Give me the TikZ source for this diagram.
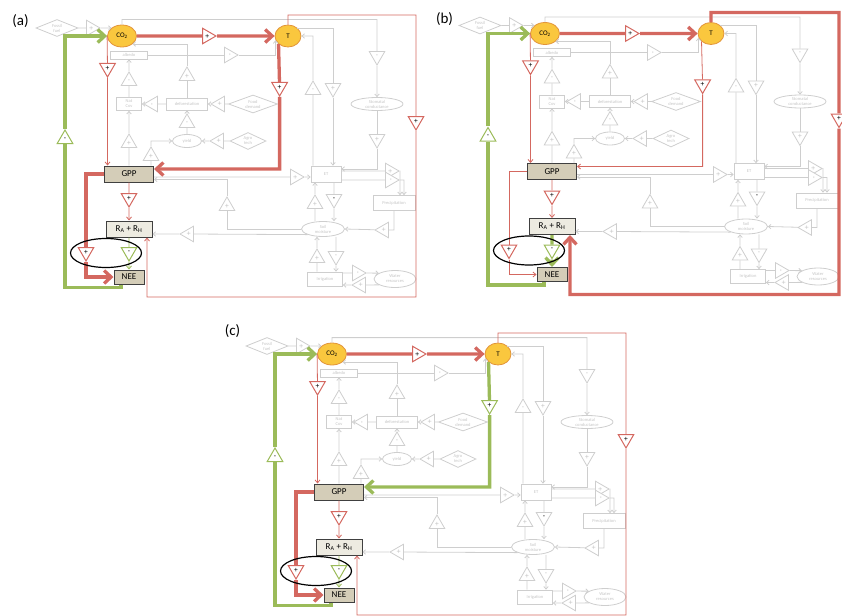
\documentclass[tikz,border=0pt]{standalone}
\usepackage{fontspec}
\setmainfont{Carlito}
\usetikzlibrary{arrows.meta, shapes.geometric}

\definecolor{fbred}{RGB}{212,104,96}
\definecolor{fbgreen}{RGB}{155,187,89}
\definecolor{fbyellow}{RGB}{250,199,62}
\definecolor{fborange}{RGB}{226,148,58}
\definecolor{fbtan}{RGB}{212,205,184}
\definecolor{fbpale}{RGB}{237,235,225}
\definecolor{fbgrey}{RGB}{206,206,206}
\definecolor{fbgtext}{RGB}{196,196,196}

\tikzset{
  gn/.style={draw=fbgrey, line width=0.8pt, text=fbgtext, align=center, inner sep=0pt, font=\fontsize{4.5}{5}\selectfont},
  tri/.style={regular polygon, regular polygon sides=3, minimum size=18pt, inner sep=0pt, fill=white, line width=0.8pt, font=\fontsize{7.5}{7.5}\selectfont},
  gt/.style={tri, draw=fbgrey, text=fbgtext},
  rt/.style={tri, draw=fbred, line width=1pt, text=black},
  vt/.style={tri, draw=fbgreen, line width=1pt, text=black},
  tu/.style={}, td/.style={regular polygon rotate=180},
  tl/.style={rotate=90}, tr/.style={rotate=-90},
  grey line/.style={draw=fbgrey, line width=0.8pt, -{Straight Barb[length=2.5pt,width=4.5pt]}},
  red thin/.style={draw=fbred, line width=0.8pt, -{Straight Barb[length=3pt,width=5pt]}},
  green thin/.style={draw=fbgreen, line width=0.8pt, -{Straight Barb[length=3pt,width=5pt]}},
  red thick/.style={draw=fbred, line width=3.3pt, -{Straight Barb[length=7pt,width=13pt]}},
  green thick/.style={draw=fbgreen, line width=3.3pt, -{Straight Barb[length=7pt,width=13pt]}},
  big/.style={ellipse, draw=fborange, fill=fbyellow, line width=0.8pt, minimum height=22pt, inner sep=0pt, font=\fontsize{7}{8}\selectfont},
  box/.style={draw=black!75, fill=fbtan, line width=1pt, minimum height=16pt, inner sep=0pt, font=\fontsize{9}{10}\selectfont},
  ring/.style={ellipse, draw=black, line width=1.2pt, minimum width=71pt, minimum height=29pt},
  lab/.style={font=\fontsize{15}{18}\selectfont}
}

% the grey network shared by the three panels
\newcommand{\basenet}{%
  \node[big, minimum width=29pt] (co2) at (122,36) {CO\textsubscript{2}};
  \node[big, minimum width=26pt] (t) at (288,36) {T};
  \node[box, minimum width=49pt] (gpp) at (129,174) {GPP};
  \node[box, fill=fbpale, minimum width=46pt] (ra) at (129,229) {R\textsubscript{A} + R\textsubscript{H}};
  \node[box, minimum width=30pt, minimum height=14pt] (nee) at (129,277) {NEE};

  \node[gn, diamond, aspect=2.5, minimum width=42pt, minimum height=17pt] (fossil) at (57,28) {Fossil\\fuel};
  \node[gn, minimum width=37pt, minimum height=8pt] (albedo) at (129,55) {albedo};
  \node[gn, minimum width=25pt, minimum height=13pt] (natcov) at (129,104) {Nat\\Cov};
  \node[gn, minimum width=41pt, minimum height=12pt] (defor) at (187,104) {deforestation};
  \node[gn, diamond, aspect=2.5, minimum width=49pt, minimum height=18pt] (food) at (253,104) {Food\\demand};
  \node[gn, ellipse, minimum width=29pt, minimum height=13pt] (yield) at (187,141) {yield};
  \node[gn, diamond, aspect=2.5, minimum width=36pt, minimum height=17pt] (agro) at (248,141) {Agro\\tech};
  \node[gn, ellipse, minimum width=52pt, minimum height=13pt] (stom) at (377,104) {Stomatal\\conductance};
  \node[gn, minimum width=30pt, minimum height=16pt] (et) at (326,174) {ET};
  \node[gn, minimum width=42pt, minimum height=15pt] (precip) at (394,203) {Precipitation};
  \node[gn, ellipse, minimum width=43pt, minimum height=15pt] (soil) at (323,229) {Soil\\moisture};
  \node[gn, minimum width=35pt, minimum height=14pt] (irr) at (325,279) {Irrigation};
  \node[gn, ellipse, minimum width=42pt, minimum height=17pt] (water) at (395,279) {Water\\resources};

  \foreach \nm/\x/\y/\tdir/\tsgn in {tfossil/91/28/tr/+, talbedo/229/55/tr/-, tnatcov/129/81/tu/-,
      tgppnat/129/143/tu/+, tdefor/153/104/tl/-, tdefup/187/76/tu/+, tyield/187/123/tu/-,
      tfood/220/104/tl/+, tagro/219/141/tl/+, tgppyld/151/156/tu/+, tgpet/295/177/tr/+,
      tetup/313/90/tu/-, tetdn/333/88/td/+, tstom/377/56/td/-, tstomet/377/139/td/+,
      tpra/390/171/tr/+, tprb/390/180/tr/-, tprsoil/384/230/tl/+, tsoilgpp/227/206/tu/+,
      tsoilra/189/234/tl/+, tsoilet/315/204/tu/+, tirrsoil/317/258/tu/+,
      tsoilirr/336/256/td/-, tirrwat/357/273/tr/-, twatirr/361/285/tl/+}
    \node[gt, \tdir] (\nm) at (\x,\y) {\tsgn};
  \node[gt, td, text=black] (tetsoil) at (334,199) {-};

  \coordinate (lne) at (416,15);
  \coordinate (lse) at (416,297);
  \coordinate (lsw) at (147,297);

  \draw[grey line] (fossil) -- (tfossil) -- (co2.north west);
  \draw[grey line] (co2.north) -- ++(0,-5) -| (tstom) -- (stom);
  \draw[grey line] (stom) -- (tstomet) |- ([yshift=5pt]et.east);
  \draw[grey line] (t.north east) -| (tetdn) -- (tetdn |- et.north);
  \draw[grey line] (tetup |- et.north) -- (tetup) |- (t.east);
  \draw[grey line] (albedo) -- (talbedo) -| (t.199);
  \draw[grey line] (natcov) -- (tnatcov) -- (albedo);
  \draw[grey line] (gpp.north -| tgppnat) -- (tgppnat) -- (natcov);
  \draw[grey line] (defor) -- (tdefor) -- (natcov);
  \draw[grey line] (defor) -- (tdefup) |- (co2.south east);
  \draw[grey line] (food) -- (tfood) -- (defor);
  \draw[grey line] (yield) -- (tyield) -- (defor);
  \draw[grey line] (agro) -- (tagro) -- (yield);
  \draw[grey line] (gpp.north -| tgppyld) -- (tgppyld) |- (yield);
  \draw[grey line] (gpp.east |- tgpet) -- (tgpet) -- (et.west |- tgpet);
  \draw[grey line] (soil.west) -| (tsoilgpp) |- ([yshift=-5.5pt]gpp.east);
  \draw[grey line] (soil.200) -- (tsoilra) -- (ra.east |- tsoilra);
  \draw[grey line] (et.south -| tetsoil) -- (tetsoil) -- (soil.north -| tetsoil);
  \draw[grey line] (soil.north -| tsoilet) -- (tsoilet) -- (et.south -| tsoilet);
  \draw[grey line] (et.east |- tpra) -- (tpra) -| ([xshift=6pt]precip.north);
  \draw[grey line] (et.east |- tprb) -- (tprb) -| ([xshift=10pt]precip.north);
  \draw[grey line] (precip.south) |- (tprsoil) -- (soil.east);
  \draw[grey line] (irr.north -| tirrsoil) -- (tirrsoil) -- (soil.south -| tirrsoil);
  \draw[grey line] (soil.south -| tsoilirr) -- (tsoilirr) -- (irr.north -| tsoilirr);
  \draw[grey line] (irr.east |- tirrwat) -- (tirrwat) -- (water.160);
  \draw[grey line] (water.200) -- (twatirr) -- (irr.east |- twatirr);

  \node[rt, tr] (tco2t) at (207,36) {+};
  \node[rt, td] (tco2gpp) at (107.5,68) {+};
  \node[rt, td] (tgppra) at (129,198) {+};
  \node[rt, td] (tgppnee) at (86,252) {+};
  \node[vt, td] (tranee) at (129,252) {-};
  \node[vt] (tneeco2) at (65,139) {-};
  \node[rt, td] (ttra) at (416,121) {+};
  \draw[red thick] (co2) -- (tco2t) -- (t);
  \draw[red thin] (co2.west) -- (tco2gpp) -- (tco2gpp |- gpp.north);
  \draw[red thin] (gpp) -- (tgppra) -- (ra);
}

\begin{document}
\begin{tikzpicture}[x=1pt, y=-1pt]
  \useasboundingbox (0,0) rectangle (842,615);
  \clip (0,0) rectangle (842,615);

  % (a)
  \begin{scope}
    \basenet
    \node[rt, td] (ttgpp) at (279.6,87) {+};
    \draw[red thick] (t.south west) -- (ttgpp) |- ([yshift=5pt]gpp.east);
    \draw[red thick] (gpp.west) -| (tgppnee) |- (nee);
    \draw[green thin] (ra) -- (tranee) -- (nee);
    \draw[green thick] ([xshift=-8pt]nee.south) -- ++(0,3) -| (tneeco2) |- (co2.west);
    \draw[red thin] (t.north) |- (lne) -- (ttra) -- (lse) -- (lsw) -- (lsw |- ra.south);
    \node[ring] (ringa) at (106,253) {};
  \end{scope}

  % (b)
  \begin{scope}[shift={(423,-2.5)}]
    \basenet
    \node[rt, td] (ttgpp) at (279.6,87) {+};
    \draw[red thin] (t.south west) -- (ttgpp) |- ([yshift=5pt]gpp.east);
    \draw[red thin] (gpp.west) -| (tgppnee) |- (nee);
    \draw[green thick] (ra) -- (tranee) -- (nee);
    \draw[green thick] ([xshift=-8pt]nee.south) -- ++(0,3) -| (tneeco2) |- (co2.west);
    \draw[red thick] (t.north) |- (lne) -- (ttra) -- (lse) -- (lsw) -- (lsw |- ra.south);
    \node[ring] (ringb) at (106,253) {};
  \end{scope}

  % (c)
  \begin{scope}[shift={(210,318)}]
    \basenet
    \node[vt, td] (ttgpp) at (279.6,87) {+};
    \draw[green thick] (t.south west) -- (ttgpp) |- ([yshift=5pt]gpp.east);
    \draw[red thick] (gpp.west) -| (tgppnee) |- (nee);
    \draw[green thin] (ra) -- (tranee) -- (nee);
    \draw[green thick] ([xshift=-8pt]nee.south) -- ++(0,3) -| (tneeco2) |- (co2.west);
    \draw[red thin] (t.north) |- (lne) -- (ttra) -- (lse) -- (lsw) -- (lsw |- ra.south);
    \node[ring] (ringc) at (106,253) {};
  \end{scope}

  \node[lab] (laba) at (20.5,21.5) {(a)};
  \node[lab] (labb) at (444.5,19.5) {(b)};
  \node[lab] (labc) at (232.5,331.5) {(c)};
\end{tikzpicture}
\end{document}
